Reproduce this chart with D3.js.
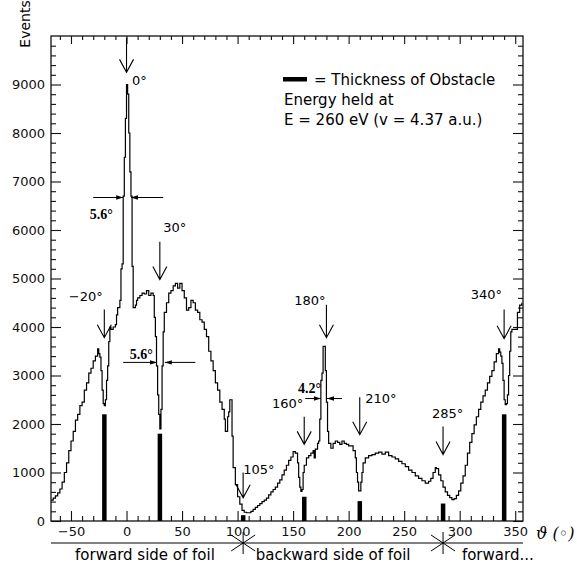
<html>
<script src="https://d3js.org/d3.v7.js"></script>
<body style="margin:0;background:#fff;">
<svg id="chart" width="577" height="563"></svg>
<script>
    // histogram: angle (deg) -> events
    let angles = [-68,-66,-64,-62,-60,-58,-56,-54,-52,-50,-48,-46,-44,-42,-40,-38,-36,-34,-32,-30,-28,-26,-25,-24,-23,-22,-21,-20,-19,-18,-17,-16,-15,-14,-12,-10,-9,-8,-6,-5,-4,-3,-2,-1,0,1,2,3,4,5,6,7,8,9,10,12,14,16,18,20,22,24,25,26,27,28,29,30,31,32,33,34,36,38,40,42,44,46,48,50,52,54,56,58,60,62,64,66,68,70,72,74,76,78,80,82,84,86,88,89,90,91,92,93,94,95,96,98,100,102,104,106,108,110,112,114,116,118,120,122,124,126,128,130,132,134,136,138,140,142,144,146,148,150,152,154,155,156,157,158,159,160,162,164,166,168,169,170,172,173,174,175,176,177,178,179,180,181,182,184,186,188,190,192,194,196,198,200,202,204,206,207,208,209,210,211,212,213,215,218,221,224,227,230,233,236,239,242,245,248,251,254,257,260,263,266,269,272,274,276,278,279,281,283,285,287,289,291,293,295,297,299,301,303,305,307,309,311,313,315,317,319,321,323,325,327,329,331,333,335,336,337,338,339,340,341,342,343,344,345,346,347,349,351,352,354,356];
    let events = [430,470,520,580,660,800,1000,1200,1450,1650,1850,2080,2200,2380,2450,2700,2850,3050,3150,3300,3400,3550,3450,3380,3100,2700,2420,2380,2500,2900,3200,3700,4000,3950,4000,4050,4250,4400,4550,5200,5300,6700,7500,8300,9000,8800,8000,7200,6700,5250,4400,4400,4450,4550,4600,4650,4700,4680,4750,4650,4700,4650,4200,3800,3200,2600,2200,1900,2300,3200,3900,4300,4500,4700,4750,4850,4900,4800,4900,4750,4600,4350,4400,4550,4500,4350,4300,4150,4100,3950,3800,3500,3300,3100,2850,2700,2450,2300,2100,1850,1850,2150,2250,2500,2500,1750,1100,750,500,350,220,180,170,170,200,240,280,320,360,400,430,470,540,600,650,700,780,850,950,1050,1150,1250,1320,1430,1400,1200,900,700,610,650,1000,1150,1300,1350,1400,1450,1300,1480,1600,1650,2100,2900,3050,3600,3600,3100,2450,1850,1600,1500,1600,1650,1620,1580,1650,1600,1580,1550,1550,1450,1300,1000,800,620,620,800,1000,1200,1300,1350,1370,1400,1420,1380,1420,1350,1320,1280,1230,1180,1120,1050,1000,930,880,830,780,820,880,1000,1100,1080,950,830,700,600,530,480,440,460,530,620,780,930,1150,1400,1620,1800,1980,2150,2300,2450,2580,2700,2850,2980,3100,3280,3450,3550,3480,3400,3250,2900,2500,2400,2420,2600,3000,3500,3900,3950,3950,3950,4300,4450,4500];
    if (angles.length !== events.length) throw new Error("length mismatch " + angles.length + " vs " + events.length);

    // obstacle thickness bars
    let obstacleAngles = [-20, 30, 105, 160, 210, 285, 340];
    let obstacleHeights = [2200, 1800, 120, 500, 410, 360, 2200];

    // arrows: angle, arrow top / tip (events), label, label start (deg), label baseline (events)
    let arrowAngles = [0, 30, -20, 180, 340, 160, 210, 285, 105];
    let arrowTops = [9970, 5760, 4360, 4460, 4360, 2150, 2550, 1950, 1000];
    let arrowTips = [9250, 4980, 3780, 3780, 3760, 1580, 1780, 1370, 480];
    let arrowLabels = ["0°", "30°", "−20°", "180°", "340°", "160°", "210°", "285°", "105°"];
    let labelAngles = [5, 33, -52, 151, 310, 131, 215, 275, 105];
    let labelEvents = [9000, 5960, 4530, 4460, 4570, 2340, 2440, 2130, 960];

    // width markers: level, left arrow from/to, right arrow from/to, label
    let widthLevels = [6670, 3270, 2525];
    let widthLeft = [[-30, -3], [-3, 27.5], [161, 175]];
    let widthRight = [[33, 4], [62, 34.5], [194, 180.5]];
    let widthLabels = ["5.6°", "5.6°", "4.2°"];
    let widthLabelAngles = [-33, 3, 154.5];
    let widthLabelEvents = [6230, 3330, 2640];

    let xMajor = d3.range(-50, 351, 50);
    let xMinor = d3.range(-60, 351, 10).filter(d => d % 50 !== 0);
    let yMajor = d3.range(0, 10000, 1000);
    let yMinor = d3.range(200, 10000, 200).filter(d => d % 1000 !== 0);

    let sideLabels = ["forward side of foil", "backward side of foil", "forward..."];
    let sideAngles = [16.6, 186, 302];
    let foilEdges = [105, 285];

    let pLeft = 51, pRight = 523, pTop = 36, pBottom = 521;
    let svg = d3.select("#chart");
    let font = "DejaVu Sans, sans-serif";

    let x = d3.scaleLinear().domain([-68, 357]).range([pLeft, pRight]);
    let y = d3.scaleLinear().domain([0, 10000]).range([pBottom, pTop]);

    function ticks(gen, vals, size, labels) {
        return gen.tickValues(vals).tickSizeInner(-size).tickSizeOuter(0)
            .tickPadding(labels ? 6 : 0)
            .tickFormat(labels ? d3.format("") : "");
    }

    let axes = [
        [d3.axisBottom(x), xMinor, 5, false, `translate(0,${pBottom})`],
        [d3.axisBottom(x), xMajor, 10, true, `translate(0,${pBottom})`],
        [d3.axisTop(x), xMinor, 4, false, `translate(0,${pTop})`],
        [d3.axisTop(x), xMajor, 8, false, `translate(0,${pTop})`],
        [d3.axisLeft(y), yMinor, 5, false, `translate(${pLeft},0)`],
        [d3.axisLeft(y), yMajor, 10, true, `translate(${pLeft},0)`],
        [d3.axisRight(y), yMinor, 5, false, `translate(${pRight},0)`],
        [d3.axisRight(y), yMajor, 10, false, `translate(${pRight},0)`]
    ];
    axes.forEach(a => {
        let g = svg.append("g").attr("transform", a[4]).call(ticks(a[0], a[1], a[2], a[3]));
        g.select(".domain").remove();
        g.selectAll("line").attr("stroke", "#111").attr("stroke-width", 1.1);
        g.selectAll("text").attr("font-family", font).attr("font-size", 13).attr("fill", "#111");
    });

    svg.append("rect")
        .attr("x", pLeft).attr("y", pTop)
        .attr("width", pRight - pLeft).attr("height", pBottom - pTop)
        .attr("fill", "none").attr("stroke", "#111").attr("stroke-width", 1.3);

    svg.append("text")
        .attr("transform", "translate(30,24) rotate(-90)")
        .attr("text-anchor", "middle")
        .attr("font-family", font).attr("font-size", 14)
        .text("Events");

    // obstacle bars
    svg.selectAll(".bar").data(obstacleAngles).enter().append("rect")
        .attr("class", "bar")
        .attr("x", d => x(d) - 2.2)
        .attr("width", 4.5)
        .attr("y", (d, i) => y(obstacleHeights[i]))
        .attr("height", (d, i) => y(0) - y(obstacleHeights[i]))
        .attr("fill", "#000");

    // histogram
    let pts = angles.map((a, i) => [a, events[i]]);
    let line = d3.line().x(d => x(d[0])).y(d => y(d[1])).curve(d3.curveStepAfter);
    svg.append("path")
        .attr("d", line(pts))
        .attr("fill", "none").attr("stroke", "#000").attr("stroke-width", 1.2);

    // down arrows
    arrowAngles.forEach((a, i) => {
        let ax = x(a), t = y(arrowTops[i]), b = y(arrowTips[i]);
        svg.append("path")
            .attr("d", `M${ax},${t}L${ax},${b}M${ax - 7},${b - 13}L${ax},${b}L${ax + 7},${b - 13}`)
            .attr("fill", "none").attr("stroke", "#000").attr("stroke-width", 1.1);
        svg.append("text")
            .attr("x", x(labelAngles[i])).attr("y", y(labelEvents[i]))
            .attr("font-family", font).attr("font-size", 13)
            .text(arrowLabels[i]);
    });

    // width arrows
    function hArrow(from, to, lev) {
        let x0 = x(from), x1 = x(to), yy = y(lev), dir = x1 > x0 ? 1 : -1;
        svg.append("line").attr("x1", x0).attr("x2", x1).attr("y1", yy).attr("y2", yy)
            .attr("stroke", "#000").attr("stroke-width", 1);
        svg.append("path")
            .attr("d", `M${x1},${yy}L${x1 - dir * 7},${yy - 2.2}L${x1 - dir * 7},${yy + 2.2}Z`)
            .attr("fill", "#000");
    }
    widthLevels.forEach((lev, i) => {
        hArrow(widthLeft[i][0], widthLeft[i][1], lev);
        hArrow(widthRight[i][0], widthRight[i][1], lev);
        svg.append("text")
            .attr("x", x(widthLabelAngles[i])).attr("y", y(widthLabelEvents[i]))
            .attr("font-family", "Liberation Serif, serif").attr("font-weight", "bold")
            .attr("font-size", 14)
            .text(widthLabels[i]);
    });

    // legend
    svg.append("rect").attr("x", 283).attr("y", 77).attr("width", 24).attr("height", 4.5).attr("fill", "#000");
    let legendLines = ["= Thickness of Obstacle", "Energy held at", "E = 260 eV (v = 4.37 a.u.)"];
    legendLines.forEach((t, i) => {
        svg.append("text")
            .attr("x", i === 0 ? 314 : 284).attr("y", 85 + i * 20)
            .attr("font-family", font).attr("font-size", 15)
            .text(t);
    });

    // foil sides band
    let bandY = 543;
    svg.append("line").attr("x1", pLeft).attr("x2", pRight).attr("y1", bandY).attr("y2", bandY)
        .attr("stroke", "#000").attr("stroke-width", 1);
    foilEdges.forEach(a => {
        let cx = x(a);
        svg.append("path")
            .attr("d", `M${cx},${bandY - 11}L${cx},${bandY + 11}M${cx - 12},${bandY - 8}L${cx + 12},${bandY + 8}M${cx - 12},${bandY + 8}L${cx + 12},${bandY - 8}`)
            .attr("stroke", "#000").attr("stroke-width", 1);
    });
    sideLabels.forEach((t, i) => {
        svg.append("text")
            .attr("x", x(sideAngles[i])).attr("y", 560)
            .attr("text-anchor", i === 2 ? "start" : "middle")
            .attr("font-family", font).attr("font-size", 15)
            .text(t);
    });

    svg.append("text")
        .attr("x", 536).attr("y", 539)
        .attr("font-family", "DejaVu Serif, serif").attr("font-style", "italic").attr("font-size", 16)
        .text("ϑ (◦)");
</script>
</body>
</html>
